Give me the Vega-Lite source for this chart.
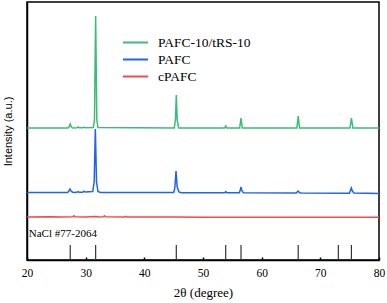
{
  "$schema": "https://vega.github.io/schema/vega-lite/v6.json",
  "width": 352,
  "height": 258,
  "autosize": {"type": "none"},
  "padding": {"left": 27, "top": 2, "right": 8, "bottom": 43},
  "background": "white",
  "config": {
    "view": {"stroke": "black", "strokeWidth": 1.5},
    "font": "Liberation Serif",
    "axis": {"grid": false, "domainColor": "black", "domainWidth": 1.5, "tickColor": "black", "labelColor": "black", "titleColor": "black", "labelFont": "Liberation Serif", "titleFont": "Liberation Serif", "titleFontWeight": "normal"}
  },
  "datasets": {
    "xrd": [
      {"x": 20, "y": 132, "s": "PAFC-10/tRS-10"},
      {"x": 27.0, "y": 132, "s": "PAFC-10/tRS-10"},
      {"x": 27.2, "y": 133.5, "s": "PAFC-10/tRS-10"},
      {"x": 27.37, "y": 136, "s": "PAFC-10/tRS-10"},
      {"x": 27.55, "y": 133, "s": "PAFC-10/tRS-10"},
      {"x": 27.8, "y": 132, "s": "PAFC-10/tRS-10"},
      {"x": 28.5, "y": 132.2, "s": "PAFC-10/tRS-10"},
      {"x": 28.7, "y": 133, "s": "PAFC-10/tRS-10"},
      {"x": 28.9, "y": 132.2, "s": "PAFC-10/tRS-10"},
      {"x": 29.5, "y": 132.2, "s": "PAFC-10/tRS-10"},
      {"x": 29.7, "y": 132.8, "s": "PAFC-10/tRS-10"},
      {"x": 29.9, "y": 132.2, "s": "PAFC-10/tRS-10"},
      {"x": 31.3, "y": 132.5, "s": "PAFC-10/tRS-10"},
      {"x": 31.5, "y": 140, "s": "PAFC-10/tRS-10"},
      {"x": 31.7, "y": 244, "s": "PAFC-10/tRS-10"},
      {"x": 31.9, "y": 140, "s": "PAFC-10/tRS-10"},
      {"x": 32.1, "y": 132.5, "s": "PAFC-10/tRS-10"},
      {"x": 45.1, "y": 132, "s": "PAFC-10/tRS-10"},
      {"x": 45.3, "y": 140, "s": "PAFC-10/tRS-10"},
      {"x": 45.45, "y": 165, "s": "PAFC-10/tRS-10"},
      {"x": 45.6, "y": 140, "s": "PAFC-10/tRS-10"},
      {"x": 45.85, "y": 132, "s": "PAFC-10/tRS-10"},
      {"x": 53.7, "y": 132, "s": "PAFC-10/tRS-10"},
      {"x": 53.87, "y": 134, "s": "PAFC-10/tRS-10"},
      {"x": 54.05, "y": 132, "s": "PAFC-10/tRS-10"},
      {"x": 56.25, "y": 132, "s": "PAFC-10/tRS-10"},
      {"x": 56.48, "y": 142, "s": "PAFC-10/tRS-10"},
      {"x": 56.7, "y": 132, "s": "PAFC-10/tRS-10"},
      {"x": 66.0, "y": 132, "s": "PAFC-10/tRS-10"},
      {"x": 66.23, "y": 144, "s": "PAFC-10/tRS-10"},
      {"x": 66.45, "y": 132, "s": "PAFC-10/tRS-10"},
      {"x": 75.05, "y": 132, "s": "PAFC-10/tRS-10"},
      {"x": 75.3, "y": 142, "s": "PAFC-10/tRS-10"},
      {"x": 75.55, "y": 132, "s": "PAFC-10/tRS-10"},
      {"x": 80, "y": 132, "s": "PAFC-10/tRS-10"},

      {"x": 20, "y": 67.5, "s": "PAFC"},
      {"x": 26.9, "y": 67.5, "s": "PAFC"},
      {"x": 27.15, "y": 69, "s": "PAFC"},
      {"x": 27.35, "y": 71, "s": "PAFC"},
      {"x": 27.55, "y": 68.5, "s": "PAFC"},
      {"x": 27.9, "y": 67.5, "s": "PAFC"},
      {"x": 28.5, "y": 67.7, "s": "PAFC"},
      {"x": 28.7, "y": 68.3, "s": "PAFC"},
      {"x": 28.9, "y": 67.7, "s": "PAFC"},
      {"x": 29.5, "y": 67.8, "s": "PAFC"},
      {"x": 29.7, "y": 68.8, "s": "PAFC"},
      {"x": 29.9, "y": 68, "s": "PAFC"},
      {"x": 31.2, "y": 68.5, "s": "PAFC"},
      {"x": 31.45, "y": 78, "s": "PAFC"},
      {"x": 31.65, "y": 131, "s": "PAFC"},
      {"x": 31.85, "y": 78, "s": "PAFC"},
      {"x": 32.1, "y": 68.5, "s": "PAFC"},
      {"x": 32.5, "y": 67.5, "s": "PAFC"},
      {"x": 45.0, "y": 67.5, "s": "PAFC"},
      {"x": 45.2, "y": 72, "s": "PAFC"},
      {"x": 45.4, "y": 89, "s": "PAFC"},
      {"x": 45.6, "y": 73, "s": "PAFC"},
      {"x": 45.9, "y": 68, "s": "PAFC"},
      {"x": 46.3, "y": 67.3, "s": "PAFC"},
      {"x": 53.7, "y": 67.2, "s": "PAFC"},
      {"x": 53.87, "y": 68.3, "s": "PAFC"},
      {"x": 54.05, "y": 67.2, "s": "PAFC"},
      {"x": 56.2, "y": 67.3, "s": "PAFC"},
      {"x": 56.35, "y": 70, "s": "PAFC"},
      {"x": 56.48, "y": 73, "s": "PAFC"},
      {"x": 56.65, "y": 69, "s": "PAFC"},
      {"x": 56.9, "y": 67.3, "s": "PAFC"},
      {"x": 65.9, "y": 67, "s": "PAFC"},
      {"x": 66.2, "y": 69, "s": "PAFC"},
      {"x": 66.5, "y": 67.3, "s": "PAFC"},
      {"x": 66.8, "y": 67, "s": "PAFC"},
      {"x": 74.95, "y": 66.8, "s": "PAFC"},
      {"x": 75.15, "y": 70, "s": "PAFC"},
      {"x": 75.28, "y": 72, "s": "PAFC"},
      {"x": 75.45, "y": 69, "s": "PAFC"},
      {"x": 75.75, "y": 67, "s": "PAFC"},
      {"x": 80, "y": 66.5, "s": "PAFC"},

      {"x": 20, "y": 43, "s": "cPAFC"},
      {"x": 24, "y": 43.2, "s": "cPAFC"},
      {"x": 26, "y": 43, "s": "cPAFC"},
      {"x": 27.8, "y": 43.2, "s": "cPAFC"},
      {"x": 28.0, "y": 44.2, "s": "cPAFC"},
      {"x": 28.2, "y": 43.2, "s": "cPAFC"},
      {"x": 30, "y": 43, "s": "cPAFC"},
      {"x": 31.7, "y": 43.6, "s": "cPAFC"},
      {"x": 32.2, "y": 43, "s": "cPAFC"},
      {"x": 33.0, "y": 43.2, "s": "cPAFC"},
      {"x": 33.2, "y": 44.3, "s": "cPAFC"},
      {"x": 33.4, "y": 43.2, "s": "cPAFC"},
      {"x": 36.6, "y": 43, "s": "cPAFC"},
      {"x": 36.8, "y": 43.6, "s": "cPAFC"},
      {"x": 37.0, "y": 43, "s": "cPAFC"},
      {"x": 45, "y": 43, "s": "cPAFC"},
      {"x": 50, "y": 42.8, "s": "cPAFC"},
      {"x": 60, "y": 42.8, "s": "cPAFC"},
      {"x": 70, "y": 42.7, "s": "cPAFC"},
      {"x": 80, "y": 42.7, "s": "cPAFC"}
    ],
    "nacl": [
      {"x": 27.37, "h": 15},
      {"x": 31.7, "h": 15},
      {"x": 45.45, "h": 15},
      {"x": 53.87, "h": 15},
      {"x": 56.48, "h": 15},
      {"x": 66.23, "h": 15},
      {"x": 73.07, "h": 15},
      {"x": 75.3, "h": 15}
    ],
    "label": [{"t": "NaCl #77-2064", "x": 20.3, "y": 26}]
  },
  "layer": [
    {
      "data": {"name": "xrd"},
      "mark": {"type": "line", "strokeWidth": 1.5, "interpolate": "linear"},
      "encoding": {
        "x": {
          "field": "x", "type": "quantitative",
          "scale": {"domain": [20, 80], "nice": false, "zero": false},
          "axis": {"title": "2θ (degree)", "titleFontSize": 13, "labelFontSize": 11.5, "values": [20, 30, 40, 50, 60, 70, 80], "tickSize": -3, "tickWidth": 1.5, "labelPadding": 10, "titlePadding": 8, "labelFlush": false}
        },
        "y": {
          "field": "y", "type": "quantitative",
          "scale": {"domain": [0, 258], "nice": false},
          "axis": {"title": "Intensity (a.u.)", "titleFont": "Liberation Sans", "titleFontSize": 11, "labels": false, "ticks": false, "titlePadding": 14}
        },
        "color": {
          "field": "s", "type": "nominal",
          "scale": {"domain": ["PAFC-10/tRS-10", "PAFC", "cPAFC"], "range": ["#3dbb78", "#1f63f0", "#f24a4a"]},
          "legend": {"title": null, "orient": "none", "legendX": 101, "legendY": 33, "padding": 0, "symbolType": "M-2,0H2", "symbolSize": 156, "symbolStrokeWidth": 2, "labelFont": "Liberation Serif", "labelFontSize": 13.5, "labelColor": "black", "labelOffset": 15, "rowPadding": 3}
        }
      }
    },
    {
      "data": {"name": "nacl"},
      "mark": {"type": "rule", "color": "#333333", "strokeWidth": 1.2},
      "encoding": {
        "x": {"field": "x", "type": "quantitative"},
        "y": {"field": "h", "type": "quantitative"},
        "y2": {"datum": 0}
      }
    },
    {
      "data": {"name": "label"},
      "mark": {"type": "text", "align": "left", "baseline": "middle", "font": "Liberation Serif", "fontSize": 11, "color": "black"},
      "encoding": {
        "x": {"field": "x", "type": "quantitative"},
        "y": {"field": "y", "type": "quantitative"},
        "text": {"field": "t"}
      }
    }
  ]
}
